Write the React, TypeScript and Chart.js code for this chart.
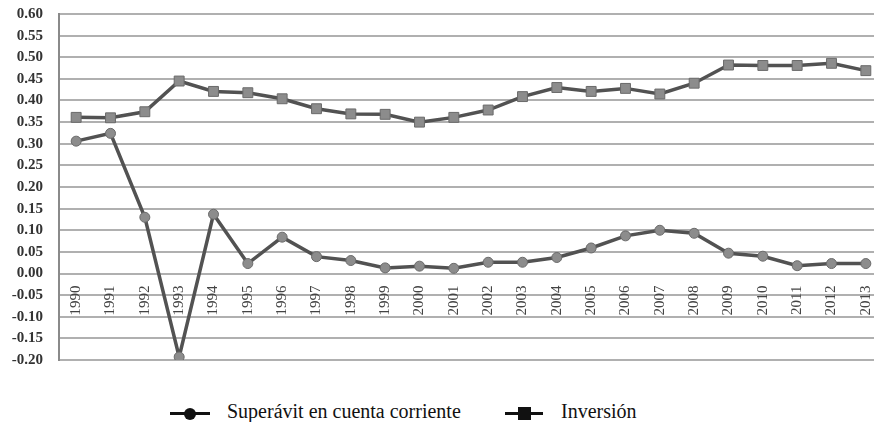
import React, { useEffect, useRef } from "react";
import { Chart, registerables } from "chart.js";

Chart.register(...registerables);

const years = [
  "1990", "1991", "1992", "1993", "1994", "1995", "1996", "1997", "1998", "1999", "2000", "2001",
  "2002", "2003", "2004", "2005", "2006", "2007", "2008", "2009", "2010", "2011", "2012", "2013",
];

const superavit = [
  0.306, 0.324, 0.13, -0.193, 0.137, 0.023, 0.084, 0.039, 0.03, 0.013, 0.017, 0.012,
  0.026, 0.026, 0.037, 0.059, 0.087, 0.1, 0.093, 0.047, 0.04, 0.018, 0.023, 0.023,
];

const inversion = [
  0.361, 0.36, 0.374, 0.445, 0.421, 0.418, 0.404, 0.381, 0.369, 0.368, 0.35, 0.361,
  0.378, 0.409, 0.43, 0.421, 0.428, 0.415, 0.44, 0.482, 0.481, 0.481, 0.486, 0.469,
];

const seriesNames = ["Superávit en cuenta corriente", "Inversión"];

const yMin = -0.2;
const yMax = 0.6;
const yStep = 0.05;

const SERIF = "'Liberation Serif', 'DejaVu Serif', serif";

export default function App() {
  const canvasRef = useRef<HTMLCanvasElement | null>(null);

  useEffect(() => {
    const canvas = canvasRef.current;
    if (!canvas) return;
    const chart = new Chart(canvas, {
      type: "line",
      data: {
        labels: years,
        datasets: [
          {
            label: seriesNames[0],
            data: superavit,
            borderColor: "#525252",
            borderWidth: 3.5,
            pointStyle: "circle",
            pointRadius: 5,
            pointBackgroundColor: "#8c8c8c",
            pointBorderColor: "#6a6a6a",
            pointBorderWidth: 1,
            tension: 0,
          },
          {
            label: seriesNames[1],
            data: inversion,
            borderColor: "#525252",
            borderWidth: 3.5,
            pointStyle: "rect",
            pointRadius: 7,
            pointBackgroundColor: "#8c8c8c",
            pointBorderColor: "#6a6a6a",
            pointBorderWidth: 1,
            tension: 0,
          },
        ],
      },
      options: {
        responsive: false,
        animation: false,
        devicePixelRatio: 1,
        layout: { padding: { top: 14, left: 0, right: 2, bottom: 14 } },
        plugins: {
          legend: { display: false },
          tooltip: { enabled: false },
        },
        scales: {
          x: {
            type: "category",
            offset: true,
            position: { y: 0 } as any,
            afterFit: (s: any) => {
              s.height = 0;
            },
            grid: { display: false, drawTicks: false },
            border: { display: false },
            ticks: {
              autoSkip: false,
              minRotation: 90,
              maxRotation: 90,
              padding: 12,
              color: "#444",
              font: { family: SERIF, size: 15 },
            },
          },
          y: {
            min: yMin,
            max: yMax,
            afterFit: (s: any) => {
              s.width = 59;
              s.paddingTop = 0;
              s.paddingBottom = 0;
            },
            grid: { color: "#b0b0b0", lineWidth: 2, drawTicks: false },
            border: { color: "#8a8a8a", width: 2 },
            ticks: {
              stepSize: yStep,
              padding: 16,
              color: "#333",
              font: { family: SERIF, size: 15, weight: "bold" },
              callback: (v: any) => {
                const n = Number(v);
                return Math.abs(n) < 1e-9 ? "0.00" : n.toFixed(2);
              },
            },
          },
        },
      },
    });
    return () => chart.destroy();
  }, []);

  const legendText: React.CSSProperties = {
    position: "absolute",
    top: 401,
    fontFamily: SERIF,
    fontSize: 20,
    lineHeight: "20px",
    color: "#111",
    whiteSpace: "nowrap",
  };

  return (
    <div
      style={{
        position: "fixed",
        left: 0,
        top: 0,
        width: 874,
        height: 422,
        overflow: "hidden",
        background: "#fff",
      }}
    >
      <canvas
        ref={canvasRef}
        width={896}
        height={374}
        style={{ position: "absolute", left: 0, top: 0 }}
      />
      <div style={{ position: "absolute", left: 170, top: 412, width: 40, height: 3, background: "#111" }} />
      <div
        style={{
          position: "absolute",
          left: 184,
          top: 407.5,
          width: 12,
          height: 12,
          borderRadius: 6,
          background: "#111",
        }}
      />
      <div style={{ ...legendText, left: 227 }}>{seriesNames[0]}</div>
      <div style={{ position: "absolute", left: 505, top: 412, width: 38, height: 3, background: "#111" }} />
      <div
        style={{
          position: "absolute",
          left: 518,
          top: 407,
          width: 13,
          height: 13,
          background: "#111",
        }}
      />
      <div style={{ ...legendText, left: 561 }}>{seriesNames[1]}</div>
    </div>
  );
}
